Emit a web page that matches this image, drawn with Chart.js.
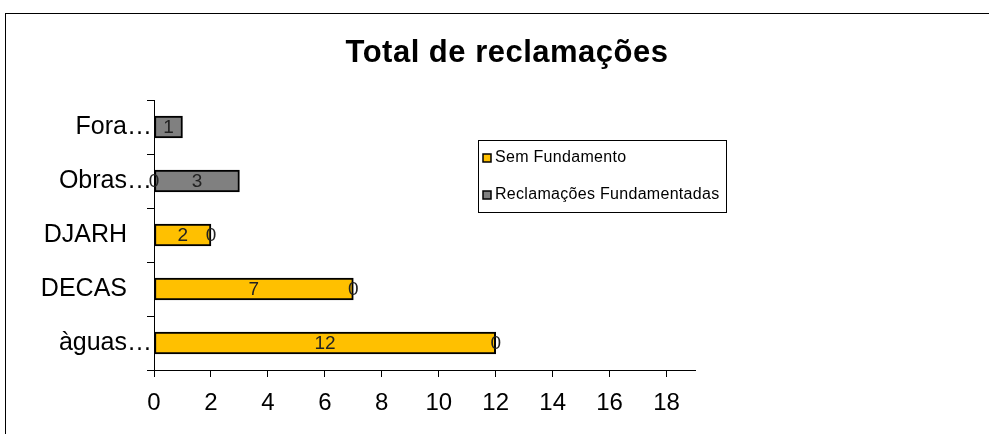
<!DOCTYPE html>
<html>
<head>
<meta charset="utf-8">
<script src="https://cdn.jsdelivr.net/npm/chart.js@4"></script>
<style>
  html, body { margin: 0; padding: 0; background: #fff; overflow: hidden; }
  #frame { position: absolute; left: 5px; top: 13px; width: 1200px; height: 800px; border: 1px solid #000; }
  #chart { position: absolute; left: 0; top: 0; }
</style>
</head>
<body>
<div id="frame"></div>
<canvas id="chart" width="989" height="434"></canvas>
<script>
// dados (primeira categoria fica em baixo, como no Excel)
const categories = ['àguas…', 'DECAS', 'DJARH', 'Obras…', 'Fora…'];
const semFundamento = [12, 7, 2, 0, null];
const fundamentadas = [0, 0, 0, 3, 1];
const xTicks = [0, 2, 4, 6, 8, 10, 12, 14, 16, 18];
const chartTitle = 'Total de reclamações';

const FONT = "'Liberation Sans', Arial, sans-serif";

// números dentro/no fim das barras
const valueLabels = {
    id: 'valueLabels',
    afterDatasetsDraw(chart) {
        const ctx = chart.ctx;
        ctx.save();
        ctx.font = '19px ' + FONT;
        ctx.fillStyle = '#222';
        ctx.textAlign = 'center';
        ctx.textBaseline = 'middle';
        chart.data.datasets.forEach((ds, i) => {
            chart.getDatasetMeta(i).data.forEach((bar, j) => {
                const v = ds.data[j];
                if (v === null || v === undefined) return;
                ctx.fillText(String(v), (bar.x + bar.base) / 2, bar.y + 1);
            });
        });
        ctx.restore();
    }
};

// título e legenda desenhados à mão para ficarem no sítio do original
const titleAndLegend = {
    id: 'titleAndLegend',
    afterDraw(chart) {
        const ctx = chart.ctx;
        ctx.save();
        ctx.fillStyle = '#000';
        ctx.textAlign = 'center';
        ctx.textBaseline = 'middle';
        ctx.font = 'bold 31px ' + FONT;
        ctx.letterSpacing = '0.5px';
        ctx.fillText(chartTitle, 507, 53);

        // caixa da legenda
        const bx = 478, by = 140, bw = 248, bh = 72;
        ctx.letterSpacing = '0.3px';
        ctx.lineWidth = 1;
        ctx.strokeStyle = '#000';
        ctx.strokeRect(bx + 0.5, by + 0.5, bw, bh);
        ctx.font = '16px ' + FONT;
        ctx.textAlign = 'left';
        chart.data.datasets.forEach((ds, i) => {
            const cy = by + 18 + i * 37;
            ctx.fillStyle = ds.backgroundColor;
            ctx.fillRect(bx + 5, cy - 4, 8, 8);
            ctx.lineWidth = 1.5;
            ctx.strokeRect(bx + 5, cy - 4, 8, 8);
            ctx.fillStyle = '#000';
            ctx.fillText(ds.label, bx + 17, cy);
        });
        ctx.restore();
    }
};

new Chart(document.getElementById('chart'), {
    type: 'bar',
    data: {
        labels: categories,
        datasets: [{
            label: 'Sem Fundamento',
            data: semFundamento,
            backgroundColor: '#FFC000',
            borderColor: '#000',
            borderWidth: 2,
            borderSkipped: false,
            barThickness: 22
        }, {
            label: 'Reclamações Fundamentadas',
            data: fundamentadas,
            backgroundColor: '#808080',
            borderColor: '#000',
            borderWidth: 2,
            borderSkipped: false,
            barThickness: 22
        }]
    },
    options: {
        indexAxis: 'y',
        responsive: false,
        animation: false,
        layout: { padding: { left: 10, right: 294, top: 100, bottom: 0 } },
        plugins: {
            legend: { display: false },
            title: { display: false },
            tooltip: { enabled: false }
        },
        scales: {
            x: {
                stacked: true,
                min: 0,
                max: 19,
                afterBuildTicks: (scale) => {
                    scale.ticks = xTicks.map(v => ({ value: v }));
                },
                afterFit: (scale) => { scale.height = 64; },
                grid: { drawOnChartArea: false, color: '#000', tickLength: 7 },
                border: { color: '#000', width: 1 },
                ticks: { color: '#000', font: { family: FONT, size: 24 }, padding: 12 }
            },
            y: {
                stacked: true,
                reverse: true,
                afterFit: (scale) => { scale.width = 144; },
                grid: { drawOnChartArea: false, color: '#000', tickLength: 7, offset: true },
                border: { color: '#000', width: 1 },
                ticks: {
                    color: '#000',
                    font: { family: FONT, size: 25 },
                    padding: -5,
                    callback: function (value) {
                        const t = this.getLabelForValue(value);
                        return t.endsWith('…') ? t : t + '\u2002\u2002';
                    }
                }
            }
        }
    },
    plugins: [valueLabels, titleAndLegend]
});
</script>
</body>
</html>
